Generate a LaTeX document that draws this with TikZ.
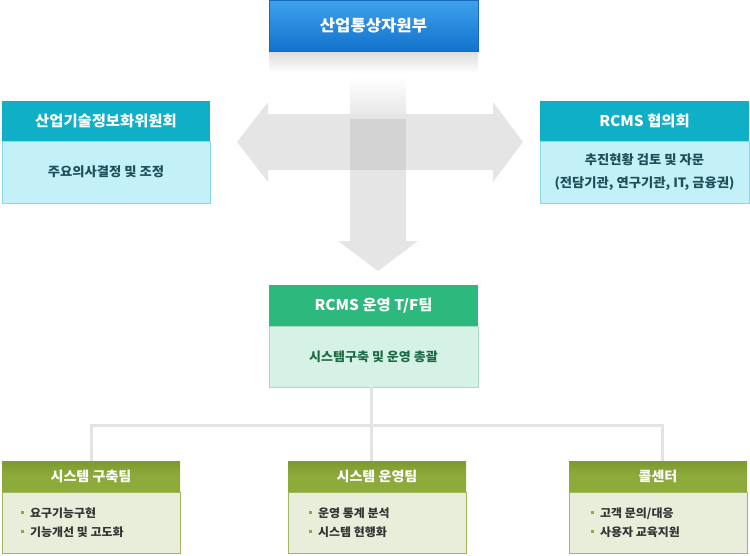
\documentclass[tikz,border=0pt]{standalone}
\usepackage{fontspec}
\setmainfont{Noto Sans CJK KR}[FakeStretch=1.04]
\definecolor{topblue}{HTML}{1A86DC}
\definecolor{topblueL}{HTML}{3FA2EC}
\definecolor{topblueD}{HTML}{1272CC}
\definecolor{topbord}{HTML}{1769BE}
\definecolor{tealhd}{HTML}{10AFC8}
\definecolor{tealbd}{HTML}{C4F1F8}
\definecolor{tealln}{HTML}{8CD6E6}
\definecolor{tealtx}{HTML}{1F4F5A}
\definecolor{grnhd}{HTML}{2DB87E}
\definecolor{grnbd}{HTML}{D6F1E5}
\definecolor{grnln}{HTML}{A6DCC4}
\definecolor{grntx}{HTML}{1D6B45}
\definecolor{olvhd}{HTML}{8DAB3B}
\definecolor{olvhdD}{HTML}{7E9A30}
\definecolor{olvbd}{HTML}{E9EEDB}
\definecolor{olvln}{HTML}{9FB860}
\definecolor{bodytx}{HTML}{333333}
\definecolor{arrowgray}{HTML}{E5E5E5}
\definecolor{arrowdark}{HTML}{D3D3D3}
\definecolor{connln}{HTML}{E3E3E3}
\newcommand{\blt}{\textcolor{olvhd}{\rule[0.28em]{3pt}{3pt}}\hspace{6pt}}
\begin{document}
\begin{tikzpicture}[x=1pt,y=-1pt,
  box/.style={anchor=north west, inner sep=0pt, outer sep=0pt, align=center},
  tophd/.style={box, draw=topbord, line width=1pt, top color=topblueL, bottom color=topblueD, text=white,
    minimum width=209pt, minimum height=51pt, font=\bfseries\fontsize{16}{19}\selectfont},
  tealhead/.style={box, fill=tealhd, text=white, minimum width=208pt, minimum height=40pt,
    font=\bfseries\fontsize{14.8}{18}\selectfont},
  tealbody/.style={box, fill=tealbd, draw=tealln, line width=1pt, text=tealtx, minimum width=208pt, minimum height=62pt,
    font=\bfseries\fontsize{12.8}{23}\selectfont},
  grnhead/.style={box, fill=grnhd, text=white, minimum width=209pt, minimum height=41pt,
    font=\bfseries\fontsize{14.8}{18}\selectfont},
  grnbody/.style={box, fill=grnbd, draw=grnln, line width=1pt, text=grntx, minimum width=209pt, minimum height=61pt,
    font=\bfseries\fontsize{12.5}{15}\selectfont},
  olvhead/.style={box, top color=olvhdD, bottom color=olvhd, middle color=olvhd, text=white, minimum width=178pt, minimum height=31pt,
    font=\bfseries\fontsize{13.5}{16}\selectfont},
  olvbody/.style={box, fill=olvbd, draw=olvln, line width=1pt, minimum width=178pt, minimum height=61pt},
  items/.style={anchor=west, inner sep=0pt, align=left, text=bodytx, font=\bfseries\fontsize{11.5}{19}\selectfont},
  conn/.style={draw=connln, line width=3pt}
]
\useasboundingbox (0,0) rectangle (750,555);

% top node and its shadow
\shade[top color=black!14, bottom color=white] (269,51) rectangle (478,73);
\node[tophd] (mot) at (269,0) {산업통상자원부};

% gray arrows
\shade[top color=white, bottom color=arrowgray] (350,77) rectangle (406,119);
\fill[arrowgray] (237,142) -- (268,102) -- (268,114) -- (493,114) -- (493,102) -- (523,142)
  -- (493,182) -- (493,170) -- (268,170) -- (268,182) -- cycle;
\fill[arrowgray] (350,170) -- (406,170) -- (406,241) -- (418,241) -- (378,271) -- (338,241) -- (350,241) -- cycle;
\fill[arrowdark] (350,119) rectangle (406,170);

% left committee
\node[tealhead] (comh) at (2,101) {산업기술정보화위원회};
\node[tealbody] (comb) at (2,141) {주요의사결정 및 조정};

% right council
\node[tealhead, minimum width=209pt] (rch) at (540,101) {RCMS 협의회};
\node[tealbody, minimum width=209pt] (rcb) at (540,141) {추진현황 검토 및 자문\\(전담기관, 연구기관, IT, 금융권)};

% TF team
\node[grnhead] (tfh) at (269,285) {RCMS 운영 T/F팀};
\node[grnbody] (tfb) at (269,326) {시스템구축 및 운영 총괄};

% connectors
\coordinate (jm) at (371.5,425.5);
\coordinate (j1) at (91.5,425.5);
\coordinate (j3) at (662.5,425.5);

% bottom teams
\node[olvhead] (b1h) at (2,461) {시스템 구축팀};
\node[olvbody] (b1b) at (2,492) {};
\node[items] (b1t) at (21,522.5) {\blt 요구기능구현\\\blt 기능개선 및 고도화};

\node[olvhead] (b2h) at (288,461) {시스템 운영팀};
\node[olvbody] (b2b) at (288,492) {};
\node[items] (b2t) at (309,522.5) {\blt 운영 통계 분석\\\blt 시스템 현행화};

\node[olvhead] (b3h) at (569,461) {콜센터};
\node[olvbody] (b3b) at (569,492) {};
\node[items] (b3t) at (591,522.5) {\blt 고객 문의/대응\\\blt 사용자 교육지원};

\draw[conn] (tfb.south -| jm) -- (jm);
\draw[conn] (j1 |- b1h.north) -- (j1) -- (j3) -- (j3 |- b3h.north);
\draw[conn] (jm) -- (jm |- b2h.north);
\end{tikzpicture}
\end{document}
